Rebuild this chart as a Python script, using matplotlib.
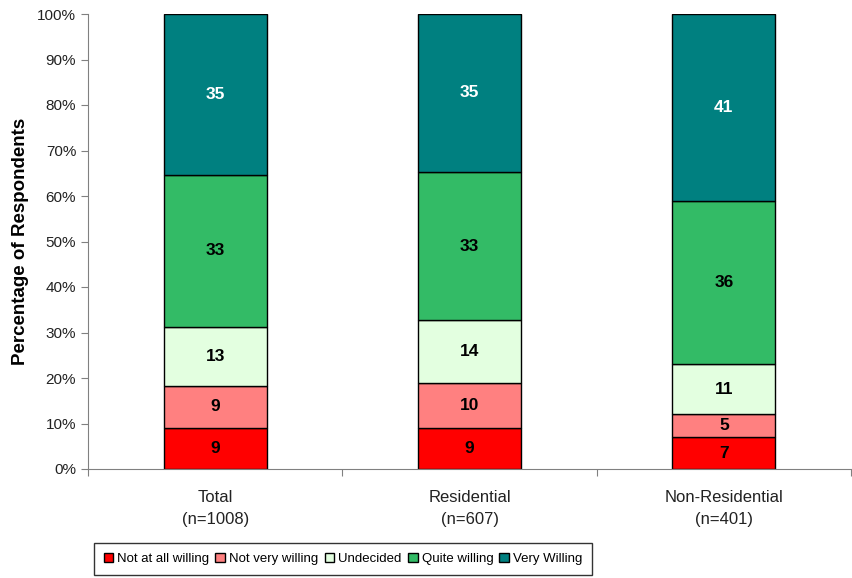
import matplotlib
matplotlib.use("Agg")
import matplotlib.pyplot as plt
from matplotlib import font_manager
import numpy as np

categories = ["Total\n(n=1008)", "Residential\n(n=607)", "Non-Residential\n(n=401)"]
series_names = ["Not at all willing", "Not very willing", "Undecided", "Quite willing", "Very Willing"]
not_at_all = [9, 9, 7]
not_very = [9, 10, 5]
undecided = [13, 14, 11]
quite = [33, 33, 36]
very = [35, 35, 41]
colors = ["#FF0000", "#FF8080", "#E3FFE0", "#33BB66", "#008080"]
label_colors = ["black", "black", "black", "black", "white"]

names = set(f.name for f in font_manager.fontManager.ttflist)
has_narrow = "Liberation Sans Narrow" in names
narrow = "Liberation Sans Narrow" if has_narrow else "Liberation Sans"
plt.rcParams['font.family'] = ['Liberation Sans', 'DejaVu Sans']

series = [not_at_all, not_very, undecided, quite, very]
data = np.array(series, dtype=float)
totals = data.sum(axis=0)
pct = data / totals * 100

fig = plt.figure(figsize=(8.52, 5.78), dpi=100)
ax = fig.add_axes([88/852, 1-469/578, 763/852, 455/578])
x = np.arange(len(categories))
bottom = np.zeros(len(categories))
handles = []
for i, name in enumerate(series_names):
    b = ax.bar(x, pct[i], 0.405, bottom=bottom, color=colors[i], edgecolor="black", linewidth=1.0, label=name)
    handles.append(b)
    for j in range(len(categories)):
        ax.text(x[j], bottom[j] + pct[i][j] / 2, f"{int(data[i][j])}", ha="center", va="center",
                fontsize=12.5, fontweight="bold", color=label_colors[i])
    bottom += pct[i]

ax.set_xlim(-0.5, len(categories) - 0.5)
ax.set_ylim(0, 100)
ax.set_yticks(np.arange(0, 101, 10))
ax.set_yticklabels([f"{v}%" for v in range(0, 101, 10)], fontsize=11, color="#222222")
ax.set_xticks(np.arange(-0.5, len(categories)), labels=[""] * (len(categories) + 1))
ax.set_xticks(x, minor=True)
ax.set_xticklabels(categories, minor=True, fontsize=13 if has_narrow else 12, family=narrow,
                   color="#222222", linespacing=1.6)
ax.tick_params(axis="x", which="minor", length=0, pad=15)
ax.tick_params(axis="x", which="major", length=5, direction="out", color="#808080")
ax.tick_params(axis="y", length=5, direction="out", color="#808080")
for s in ["top", "right"]:
    ax.spines[s].set_visible(False)
for s in ["left", "bottom"]:
    ax.spines[s].set_color("#808080")
ax.set_ylabel("Percentage of Respondents", fontsize=13.5, fontweight="bold", labelpad=6)

leg_size = 13 if has_narrow else 9.5
leg = fig.legend(handles=handles, labels=series_names, loc="center", bbox_to_anchor=(343/852, 1-559/578),
                 ncol=5, frameon=True, fancybox=False, edgecolor="black",
                 prop={"family": narrow, "size": leg_size},
                 handlelength=0.75, handleheight=0.75, handletextpad=0.3, columnspacing=0.45,
                 borderpad=0.75, borderaxespad=0)
leg.get_frame().set_linewidth(1.0)

fig.savefig("out.png", dpi=100)
